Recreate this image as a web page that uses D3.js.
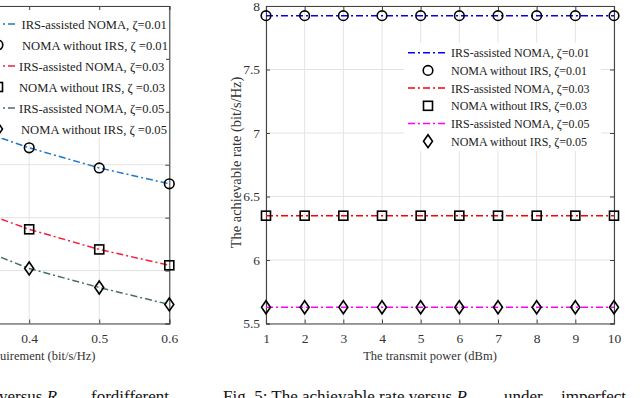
<!DOCTYPE html>
<html><head><meta charset="utf-8">
<script src="https://cdn.jsdelivr.net/npm/d3@7"></script>
<style>body{margin:0;background:#fff}svg{display:block}text{font-family:"Liberation Serif","Times New Roman",serif}</style>
</head><body><svg id="c" width="640" height="398"></svg>
<script>
// ---------- Data ----------
// Right chart (Fig. 5)
const powerTicks = [1,2,3,4,5,6,7,8,9,10];
const rateTicks = [5.5,6,6.5,7,7.5,8];
const irs001 = [7.924,7.924,7.924,7.924,7.924,7.924,7.924,7.924,7.924,7.924];
const noma001 = [7.924,7.924,7.924,7.924,7.924,7.924,7.924,7.924,7.924,7.924];
const irs003 = [6.349,6.349,6.349,6.349,6.349,6.349,6.349,6.349,6.349,6.349];
const noma003 = [6.349,6.349,6.349,6.349,6.349,6.349,6.349,6.349,6.349,6.349];
const irs005 = [5.628,5.628,5.628,5.628,5.628,5.628,5.628,5.628,5.628,5.628];
const noma005 = [5.628,5.628,5.628,5.628,5.628,5.628,5.628,5.628,5.628,5.628];
// Left chart (Fig. 4, partly visible)
const rminVals = [0.3,0.4,0.5,0.6];
const rminTicks = [0.1,0.2,0.3,0.4,0.5,0.6];
const rminTickLabels = [0.4,0.5,0.6];
const leftYTicks = [5,5.5,6,6.5,7,7.5,8];
const lIrs001 = [6.89,6.66,6.47,6.32];
const lIrs003 = [6.13,5.89,5.70,5.55];
const lIrs005 = [5.78,5.52,5.34,5.18];
const legendLabels = ["IRS-assisted NOMA, ζ=0.01","NOMA without IRS, ζ=0.01","IRS-assisted NOMA, ζ=0.03","NOMA without IRS, ζ=0.03","IRS-assisted NOMA, ζ=0.05","NOMA without IRS, ζ=0.05"];
const leftLegendLabels = ["IRS-assisted NOMA, ζ=0.01","NOMA without IRS, ζ =0.01","IRS-assisted NOMA,  ζ=0.03","NOMA without IRS, ζ =0.03","IRS-assisted NOMA,  ζ=0.05","NOMA without IRS, ζ =0.05"];

const svg = d3.select("#c");
const gridC = "#e3e3e3", axC = "#444";

function marker(g, type, x, y) {
  if (type === "o") g.append("circle").attr("cx", x).attr("cy", y).attr("r", 4.8).attr("fill", "none").attr("stroke", "#000").attr("stroke-width", 1.6);
  else if (type === "s") g.append("rect").attr("x", x-4.5).attr("y", y-4.5).attr("width", 9).attr("height", 9).attr("fill", "none").attr("stroke", "#000").attr("stroke-width", 1.6);
  else g.append("path").attr("d", `M${x},${y-6.5}L${x+4.5},${y}L${x},${y+6.5}L${x-4.5},${y}Z`).attr("fill", "none").attr("stroke", "#000").attr("stroke-width", 1.6);
}

function panel(opts) {
  const {x, y, xt, yt, xlabel, ylabel, xlabelX, lines, legend} = opts;
  const g = svg.append("g");
  const [x0, x1] = x.range(), [y0, y1] = y.range();
  // grid
  g.selectAll(".gx").data(xt).join("line").attr("x1", d => x(d)).attr("x2", d => x(d)).attr("y1", y0).attr("y2", y1).attr("stroke", gridC);
  g.selectAll(".gy").data(yt).join("line").attr("y1", d => y(d)).attr("y2", d => y(d)).attr("x1", x0).attr("x2", x1).attr("stroke", gridC);
  // axes
  const xl = opts.xLabels || xt;
  const ax = g.append("g").attr("transform", `translate(0,${y0})`).call(d3.axisBottom(x).tickValues(xt).tickSize(-4).tickPadding(10).tickFormat(d => xl.includes(d) ? d3.format("")(d) : ""));
  const ay = g.append("g").attr("transform", `translate(${x0},0)`).call(d3.axisLeft(y).tickValues(yt).tickSize(-4).tickPadding(6).tickFormat(opts.noYLabels ? "" : d3.format("")));
  const at = g.append("g").attr("transform", `translate(0,${y1})`).call(d3.axisTop(x).tickValues(xt).tickSize(-4).tickFormat(""));
  const ar = g.append("g").attr("transform", `translate(${x1},0)`).call(d3.axisRight(y).tickValues(yt).tickSize(-4).tickFormat(""));
  [ax, ay, at, ar].forEach(a => { a.selectAll("path,line").attr("stroke", axC); a.select(".domain").attr("stroke-width", 1.1); a.selectAll("text").attr("font-size", 13.5).attr("fill", "#333").attr("font-family", "Liberation Serif"); a.selectAll("text").filter(function(){return this.textContent==="";}).remove(); });
  // lines
  lines.forEach(L => {
    g.append("path").datum(L.vals).attr("fill", "none").attr("stroke", L.color).attr("stroke-width", 1.5).attr("stroke-dasharray", "7,3,2,3")
      .attr("d", d3.line().x((d, i) => x(L.xs[i])).y(d => y(d)));
    L.vals.forEach((v, i) => marker(g, L.mk, x(L.xs[i]), y(v)));
  });
  // labels
  g.append("text").attr("x", xlabelX).attr("y", y0 + 36).attr("text-anchor", opts.xlabelAnchor || "middle").attr("font-size", 12.5).attr("fill", "#333").text(xlabel);
  if (ylabel) g.append("text").attr("transform", `translate(${opts.ylabelX},${opts.ylabelY}) rotate(-90)`).attr("text-anchor", "middle").attr("font-size", 14.4).attr("fill", "#333").text(ylabel);
  // legend
  const lg = g.append("g");
  lg.append("rect").attr("x", legend.x).attr("y", legend.y).attr("width", legend.w).attr("height", legend.h).attr("fill", "#fff");
  legend.items.forEach((it, i) => {
    const cy = legend.y0 + i * legend.dy;
    if (it.color) lg.append("line").attr("x1", legend.lx0).attr("x2", legend.lx1).attr("y1", cy).attr("y2", cy).attr("stroke", it.color).attr("stroke-width", 1.5).attr("stroke-dasharray", "7,3,2,3");
    else marker(lg, it.mk, (legend.lx0 + legend.lx1) / 2, cy);
    lg.append("text").attr("x", legend.tx[i]).attr("y", cy + 4.5).attr("font-size", legend.fs).attr("fill", "#222").text(it.label);
  });
}

// Right panel
const xR = d3.scaleLinear().domain([1, 10]).range([266, 614]);
const yR = d3.scaleLinear().domain([5.5, 8]).range([323.5, 6]);
panel({
  x: xR, y: yR, xt: powerTicks, yt: rateTicks,
  xlabel: "The transmit power (dBm)", xlabelX: 430,
  ylabel: "The achievable rate (bit/s/Hz)", ylabelX: 241, ylabelY: 162.5,
  lines: [
    {xs: powerTicks, vals: irs001, color: "#0000ff", mk: "o"},
    {xs: powerTicks, vals: irs003, color: "#ff0000", mk: "s"},
    {xs: powerTicks, vals: irs005, color: "#ff00ff", mk: "d"}
  ],
  legend: {x: 404, y: 43, w: 197, h: 108, y0: 52.7, dy: 17.7, lx0: 408, lx1: 448, fs: 12, tx: [451,451,451,451,451,451],
    items: [
      {color: "#0000ff", label: legendLabels[0]}, {mk: "o", label: legendLabels[1]},
      {color: "#ff0000", label: legendLabels[2]}, {mk: "s", label: legendLabels[3]},
      {color: "#ff00ff", label: legendLabels[4]}, {mk: "d", label: legendLabels[5]}
    ]}
});

// Left panel (partially visible)
const xL = d3.scaleLinear().domain([0.1, 0.6]).range([-181, 169.3]);
const yL = d3.scaleLinear().domain([5, 8]).range([323.5, 6]);
panel({
  x: xL, y: yL, xt: rminTicks, yt: leftYTicks, xLabels: rminTickLabels, noYLabels: true,
  xlabel: "uirement (bit/s/Hz)", xlabelX: 0, xlabelAnchor: "start",
  lines: [
    {xs: rminVals, vals: lIrs001, color: "#1f77c9", mk: "o"},
    {xs: rminVals, vals: lIrs003, color: "#f51d3b", mk: "s"},
    {xs: rminVals, vals: lIrs005, color: "#48705f", mk: "d"}
  ],
  legend: {x: -60, y: 10, w: 226, h: 128, y0: 24, dy: 21, lx0: -22, lx1: 18, fs: 12.6, tx: [21.5,22,19,19,19,21],
    items: [
      {color: "#1f77c9", label: leftLegendLabels[0]}, {mk: "o", label: leftLegendLabels[1]},
      {color: "#f51d3b", label: leftLegendLabels[2]}, {mk: "s", label: leftLegendLabels[3]},
      {color: "#48705f", label: leftLegendLabels[4]}, {mk: "d", label: leftLegendLabels[5]}
    ]}
});

// Captions (cut off at the bottom, as in the reference)
const capL = svg.append("text").attr("x", -1).attr("y", 401.5).attr("font-size", 17).attr("fill", "#111");
capL.append("tspan").text("versus ");
capL.append("tspan").attr("font-style", "italic").text("R");
capL.append("tspan").attr("font-size", 11).attr("dy", 4).text("min");
capL.append("tspan").attr("x", 91).attr("dy", -4).text("fordifferent");
const capR = svg.append("text").attr("x", 223).attr("y", 401.5).attr("font-size", 17).attr("fill", "#111");
capR.append("tspan").text("Fig. 5: The achievable rate versus ");
capR.append("tspan").attr("font-style", "italic").text("P");
capR.append("tspan").attr("font-size", 11).attr("dy", 4).text("max");
capR.append("tspan").attr("x", 504).attr("dy", -4).attr("word-spacing", 14).text("under imperfect");
</script></body></html>
